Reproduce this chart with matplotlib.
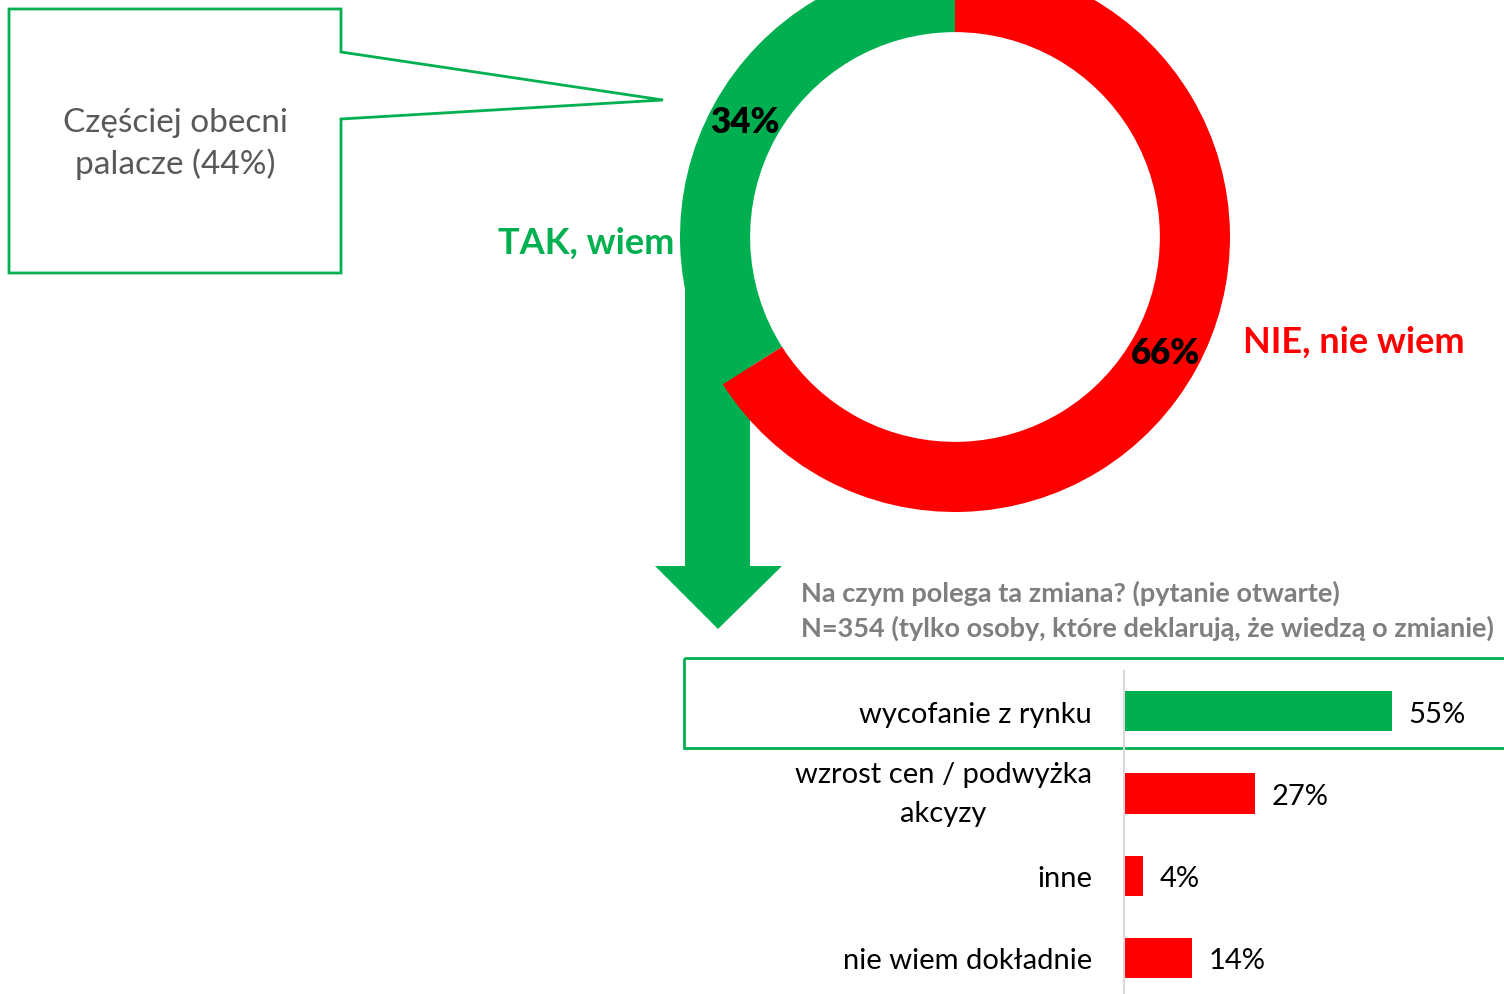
import matplotlib
matplotlib.use('Agg')
import matplotlib.pyplot as plt
from matplotlib.patches import Polygon, Rectangle

plt.rcParams['font.family'] = ['Lato', 'DejaVu Sans']

# dane
donut_labels = ['TAK, wiem', 'NIE, nie wiem']
donut_vals = [34, 66]
kategorie = ['wycofanie z rynku', 'wzrost cen / podwyżka\nakcyzy', 'inne', 'nie wiem dokładnie']
wartosci = [55, 27, 4, 14]
tytul1 = 'Na czym polega ta zmiana? (pytanie otwarte)'
tytul2 = 'N=354 (tylko osoby, które deklarują, że wiedzą o zmianie)'
dymek = 'Częściej obecni\npalacze (44%)'

ZIELONY = '#00B050'
CZERWONY = '#FF0000'
SZARY = '#7F7F7F'

W, H = 1504, 995
fig = plt.figure(figsize=(W / 100, H / 100), dpi=100)

# warstwa w pikselach
ax0 = fig.add_axes([0, 0, 1, 1])
ax0.set_xlim(0, W)
ax0.set_ylim(H, 0)
ax0.axis('off')

# dymek
dymek_pts = [(9, 10), (341, 10), (341, 53), (663, 101), (341, 120), (341, 274), (9, 274)]
ax0.add_patch(Polygon(dymek_pts, closed=True, fill=False, edgecolor=ZIELONY, lw=2))
ax0.text(175, 144, dymek, ha='center', va='center', fontsize=24, color='#595959',
         linespacing=1.4)

# strzalka
strz = [(685, 237), (750, 237), (750, 567), (782, 567), (718, 630), (655, 567), (685, 567)]
ax0.add_patch(Polygon(strz, closed=True, facecolor=ZIELONY, edgecolor='none'))

# ramka podswietlenia
ax0.add_patch(Rectangle((684, 659), 830, 90, fill=False, edgecolor=ZIELONY, lw=2))

ax0.text(674, 243, donut_labels[0], ha='right', va='center', fontsize=26,
         fontweight='bold', color=ZIELONY)
ax0.text(1243, 342, donut_labels[1], ha='left', va='center', fontsize=26,
         fontweight='bold', color=CZERWONY)
ax0.text(801, 593, tytul1, ha='left', va='center', fontsize=19.5, fontweight='bold', color=SZARY)
ax0.text(801, 628, tytul2, ha='left', va='center', fontsize=19.5, fontweight='bold', color=SZARY)

# donut
cx, cy, r = 955, 238, 275
ax1 = fig.add_axes([(cx - r) / W, (H - cy - r) / H, 2 * r / W, 2 * r / H])
ax1.pie(donut_vals, colors=[ZIELONY, CZERWONY], startangle=90, counterclock=True,
        wedgeprops=dict(width=0.255, edgecolor='none'),
        autopct=lambda p: f'{p:.0f}%', pctdistance=0.873,
        textprops=dict(fontsize=25, fontweight='heavy', color='black'))
ax1.set_xlim(-1, 1)
ax1.set_ylim(-1, 1)
ax1.set_aspect('equal')
ax1.patch.set_alpha(0)

# wykres slupkowy
x0, top = 1124, 672
skala = 4.87
ax2 = fig.add_axes([x0 / W, 0, (W - x0) / W, (H - top) / H])
ax2.patch.set_alpha(0)
kolory = [ZIELONY] + [CZERWONY] * (len(wartosci) - 1)
poz = list(range(len(wartosci)))
ax2.barh(poz, wartosci, height=0.49, color=kolory)
ax2.set_xlim(0, (W - x0) / skala)
ax2.set_ylim(3.44, -0.49)
ax2.set_yticks(poz)
ax2.set_yticklabels(kategorie, fontsize=21, linespacing=1.6)
ax2.tick_params(axis='y', length=0, pad=23)
for lab in ax2.get_yticklabels():
    lab.set_horizontalalignment('right')
    lab.set_multialignment('center')
    if '\n' in lab.get_text():
        lab.set_verticalalignment('center')
ax2.set_xticks([])
for s in ['top', 'right', 'bottom']:
    ax2.spines[s].set_visible(False)
ax2.spines['left'].set_color('#D9D9D9')
ax2.spines['left'].set_linewidth(1.5)
for i, v in enumerate(wartosci):
    ax2.text(v + 3.3, i + 0.03, f'{v}%', va='center', ha='left', fontsize=21)

fig.savefig('out.png', dpi=100)
